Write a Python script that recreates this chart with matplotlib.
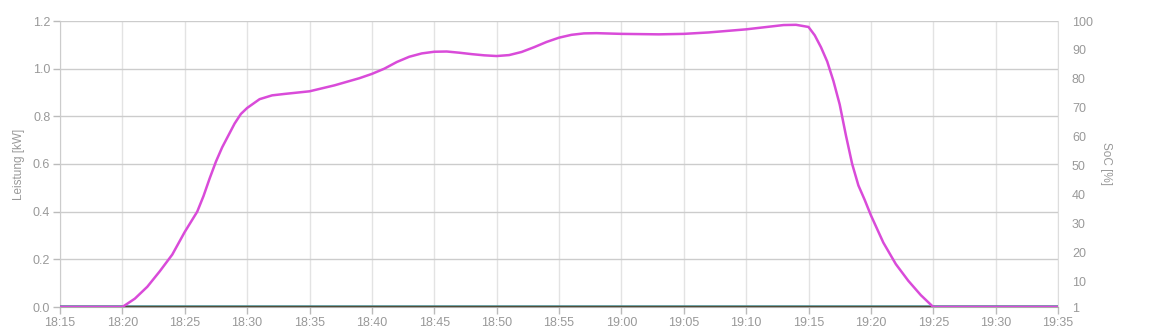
import matplotlib
matplotlib.use('Agg')
import matplotlib.pyplot as plt
import matplotlib.dates as mdates
import pandas as pd

plt.rcParams['font.family'] = ['Liberation Sans', 'DejaVu Sans']

# --- data ---
times = ['18:15', '18:20', '18:21', '18:22', '18:23', '18:24', '18:25', '18:26', '18:26:30',
         '18:27', '18:27:30', '18:28', '18:28:30', '18:29', '18:29:30', '18:30', '18:31',
         '18:32', '18:33', '18:35', '18:37', '18:39', '18:40', '18:41', '18:42', '18:43',
         '18:44', '18:45', '18:46', '18:47', '18:48', '18:49', '18:50', '18:51', '18:52',
         '18:53', '18:54', '18:55', '18:56', '18:57', '18:58', '19:00', '19:03', '19:05',
         '19:07', '19:10', '19:12', '19:13', '19:14', '19:15', '19:15:30', '19:16',
         '19:16:30', '19:17', '19:17:30', '19:18', '19:18:30', '19:19', '19:19:30', '19:20',
         '19:21', '19:22', '19:23', '19:24', '19:25', '19:35']
leistung = [0.0, 0.0, 0.035, 0.085, 0.15, 0.22, 0.315, 0.40, 0.465,
            0.54, 0.61, 0.67, 0.72, 0.77, 0.81, 0.835, 0.872,
            0.888, 0.894, 0.905, 0.93, 0.96, 0.978, 1.0, 1.028, 1.05,
            1.064, 1.071, 1.072, 1.067, 1.061, 1.056, 1.053, 1.057, 1.07,
            1.09, 1.112, 1.13, 1.142, 1.148, 1.149, 1.146, 1.144, 1.146,
            1.152, 1.165, 1.177, 1.183, 1.184, 1.175, 1.14, 1.09,
            1.03, 0.948, 0.85, 0.72, 0.60, 0.51, 0.45, 0.385,
            0.27, 0.18, 0.11, 0.05, 0.0, 0.0]
flat_times = ['18:15', '19:35']
flat_zero = [0.0, 0.0]

left_ticks = [0.0, 0.2, 0.4, 0.6, 0.8, 1.0, 1.2]
soc_ticks = [1, 10, 20, 30, 40, 50, 60, 70, 80, 90, 100]

t = pd.to_datetime(['2024-01-01 ' + s for s in times], format='mixed')
tf = pd.to_datetime(['2024-01-01 ' + s for s in flat_times], format='mixed')

fig = plt.figure(figsize=(11.54, 3.36), dpi=100)
ax = fig.add_axes([60 / 1154, 29 / 336, 998 / 1154, 286 / 336])

tick_col = '#999999'
# several series sitting on zero
ax.plot(tf, flat_zero, color='#4f8f94', lw=2.6, zorder=3, solid_capstyle='butt')
ax.plot(tf, flat_zero, color='#3b3b30', lw=2.0, zorder=4, solid_capstyle='butt')
ax.plot(tf, flat_zero, color='#e0901e', lw=0.9, zorder=5, solid_capstyle='butt')
ax.plot(t, leistung, color='#d94bd9', lw=1.8, zorder=6, solid_joinstyle='round')

ax.set_ylim(0, 1.2)
ax.set_yticks(left_ticks)
ax.set_yticklabels(['%.1f' % v for v in left_ticks])
ax.set_xlim(tf[0], tf[-1])
ax.xaxis.set_major_locator(mdates.MinuteLocator(byminute=range(0, 60, 5)))
ax.xaxis.set_major_formatter(mdates.DateFormatter('%H:%M'))

ax.grid(axis='y', color='#cccccc', lw=1)
ax.grid(axis='x', color='#e3e3e3', lw=1)
ax.set_axisbelow(True)
ax.spines['top'].set_visible(False)
ax.spines['left'].set_color('#cccccc')
ax.spines['right'].set_color('#dddddd')
ax.spines['bottom'].set_color('#aaaaaa')
ax.tick_params(labelsize=9, length=5, width=1)
ax.tick_params(axis='x', colors='#bbbbbb', labelcolor=tick_col, pad=2)
ax.tick_params(axis='y', colors='#bbbbbb', labelcolor=tick_col, pad=2)
ax.set_ylabel('Leistung [kW]', color=tick_col, fontsize=8.5, labelpad=6)

ax2 = ax.twinx()
ax2.set_ylim(1, 100)
ax2.set_yticks(soc_ticks)
ax2.tick_params(axis='y', length=0, labelsize=9, labelcolor=tick_col, pad=10)
for s in ax2.spines.values():
    s.set_visible(False)
ax2.set_ylabel('SoC [%]', color=tick_col, fontsize=8.5, rotation=270, labelpad=14)

fig.savefig('out.png', dpi=100)
